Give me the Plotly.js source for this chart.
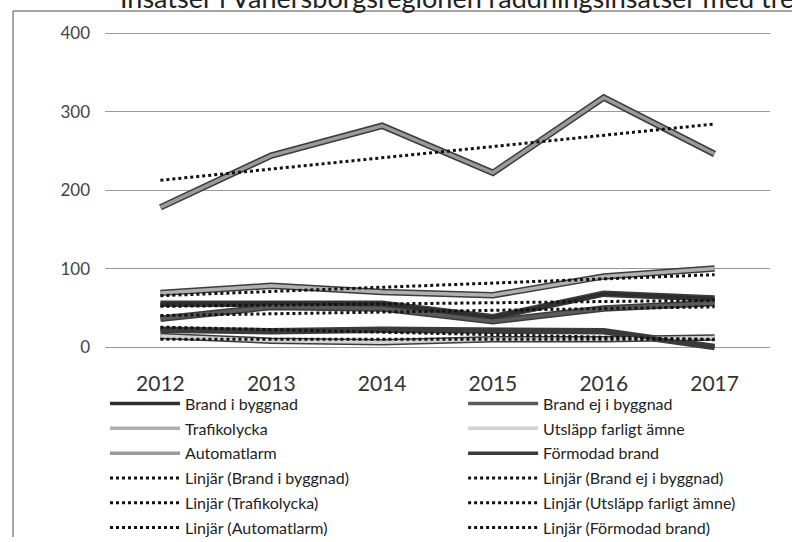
<!DOCTYPE html>
<html>
<head>
<meta charset="utf-8">
<script src="https://cdn.plot.ly/plotly-3.0.1.min.js"></script>
<style>
html,body{margin:0;padding:0;background:#fff;}
#chart{width:792px;height:542px;}
</style>
</head>
<body>
<div id="chart"></div>
<script>
// ---- data ----
const years = ["2012", "2013", "2014", "2015", "2016", "2017"];
const brandIByggnad   = [55, 56, 55, 38, 68, 62];
const brandEjIByggnad = [36, 51, 49, 33, 49, 56];
const trafikolycka    = [69, 78, 70, 66, 90, 100];
const utslapp         = [14, 8, 6, 10, 10, 12];
const automatlarm     = [178, 244, 282, 222, 318, 246];
const formodadBrand   = [22, 20, 22, 20, 20, 0];
const seriesNames = ["Brand i byggnad", "Brand ej i byggnad", "Trafikolycka",
                     "Utsläpp farligt ämne", "Automatlarm", "Förmodad brand"];
const yTicks = [0, 100, 200, 300, 400];
const titleText = "Insatser i Vänersborgsregionen räddningsinsatser med trendlinjer";

const seriesValues = [brandIByggnad, brandEjIByggnad, trafikolycka, utslapp, automatlarm, formodadBrand];
const innerColors = ["#2e2e2e", "#5a5a5a", "#b0b0b0", "#d2d2d2", "#9a9a9a", "#3a3a3a"];
// left legend column gets series 0,2,4 ; right column 1,3,5
const legendOf = k => (k % 2 === 0 ? "legend" : "legend2");

// least-squares linear trend (Excel "Linjär" trendline)
function linearTrend(vals) {
  const n = vals.length;
  let sx = 0, sy = 0, sxx = 0, sxy = 0;
  vals.forEach((v, i) => { sx += i; sy += v; sxx += i * i; sxy += i * v; });
  const b = (n * sxy - sx * sy) / (n * sxx - sx * sx);
  const a = (sy - b * sx) / n;
  return vals.map((_, i) => a + b * i);
}

const traces = [];
// dark outlines under each series line
seriesValues.forEach((vals, k) => {
  traces.push({x: years, y: vals, type: "scatter", mode: "lines",
    line: {color: "#3c3c3c", width: 6.5}, showlegend: false, hoverinfo: "skip"});
});
// series lines
seriesValues.forEach((vals, k) => {
  traces.push({x: years, y: vals, type: "scatter", mode: "lines", name: seriesNames[k],
    legend: legendOf(k), legendgroup: "s" + k,
    line: {color: innerColors[k], width: 3.5}});
});
// trendlines
seriesValues.forEach((vals, k) => {
  traces.push({x: years, y: linearTrend(vals), type: "scatter", mode: "lines",
    name: "Linjär (" + seriesNames[k] + ")",
    legend: legendOf(k), legendgroup: "t" + k,
    line: {color: "#111", width: 3, dash: "dot"}});
});

const legendBase = {
  orientation: "v", y: -0.052, yanchor: "top", xanchor: "left",
  font: {size: 16, color: "#222", family: "Lato, sans-serif"},
  itemwidth: 70, tracegroupgap: 1, bgcolor: "rgba(0,0,0,0)", traceorder: "grouped"
};

const layout = {
  width: 792, height: 542,
  margin: {l: 105, r: 22, t: 30, b: 173, autoexpand: false},
  paper_bgcolor: "#fff", plot_bgcolor: "#fff",
  font: {family: "Lato, 'Open Sans', sans-serif", color: "#333"},
  annotations: [{
    text: titleText, xref: "paper", yref: "paper",
    x: 0.02, xanchor: "left", y: 1.097, yanchor: "middle", showarrow: false,
    font: {size: 27, color: "#222", family: "Lato, sans-serif"}
  }],
  xaxis: {
    type: "category", range: [-0.5, 5.5], showgrid: false, zeroline: false,
    showline: false, ticks: "", tickfont: {size: 21, color: "#333"}
  },
  yaxis: {
    range: [-28, 404], tickvals: yTicks, showgrid: true, gridcolor: "#9a9a9a", gridwidth: 1,
    zeroline: false, showline: false, ticks: "", ticklabelstandoff: 14,
    tickfont: {size: 17, color: "#444"}
  },
  legend: Object.assign({}, legendBase, {x: 0}),
  legend2: Object.assign({}, legendBase, {x: 0.5385}),
  shapes: [
    {type: "line", xref: "paper", yref: "paper", x0: -0.1383, x1: -0.1383, y0: -0.4956, y1: 1.056,
     line: {color: "#888", width: 1.5}},
    {type: "line", xref: "paper", yref: "paper", x0: -0.1383, x1: 1.1, y0: 1.056, y1: 1.056,
     line: {color: "#888", width: 1.5}}
  ],
  showlegend: true
};

Plotly.newPlot("chart", traces, layout, {displayModeBar: false, staticPlot: true});
</script>
</body>
</html>
